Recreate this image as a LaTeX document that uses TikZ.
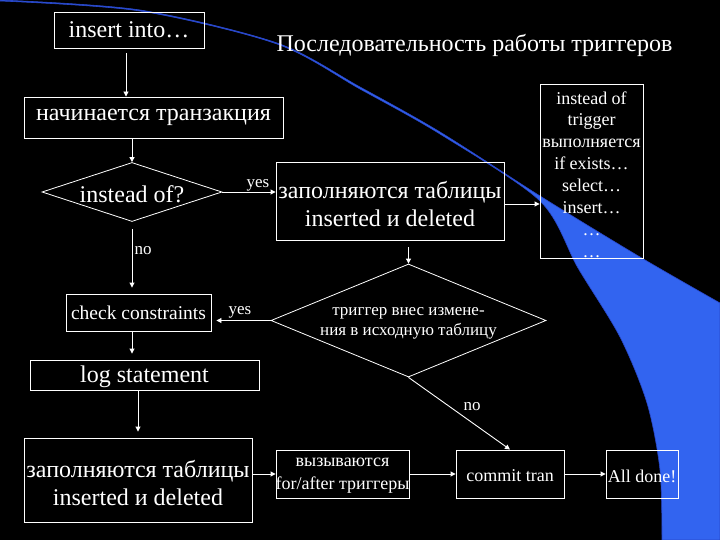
\documentclass[tikz,border=0pt]{standalone}
\usepackage{fontspec}
\setmainfont{Liberation Serif}
\usetikzlibrary{arrows.meta,shapes.geometric}
\definecolor{bluefill}{RGB}{50,100,240}
\definecolor{bluedark}{RGB}{40,70,200}
\tikzset{
  box/.style={draw=white, line width=0.9pt, inner sep=0pt, text=white, align=center},
  dia/.style={draw=white, line width=0.8pt, diamond, inner sep=0pt},
  arr/.style={draw=white, line width=0.9pt, -{Triangle[length=5pt,width=5pt]}},
  lbl/.style={text=white, inner sep=0pt, font=\fontsize{17}{19}\selectfont},
  big/.style={font=\fontsize{24}{28}\selectfont},
}
\begin{document}
\begin{tikzpicture}[x=1pt,y=-1pt]
\fill[black] (0,0) rectangle (720,540);
\useasboundingbox (0,0) rectangle (720,540);
% blue crescent
\fill[bluefill, draw=bluedark, line width=0.6pt]
  plot[smooth] coordinates {(0,0) (140,10) (277,43) (360,87) (440,132) (540,196) (640,257) (720,303)}
  -- (720,540) -- (662,540)
  -- plot[smooth] coordinates {(662,540) (660,470) (647,403) (620,337) (578,268) (540,201) (440,134) (360,89) (277,44) (140,11) (0,1)}
  -- cycle;
% title
\node[text=white, big, inner sep=0pt] (title) at (474.5,45) {Последовательность работы триггеров};
% boxes
\node[box, big, minimum width=150pt, minimum height=36pt] (ins) at (129,30) {insert into…};
\node[box, big, minimum width=259pt, minimum height=41pt] (beg) at (153.5,117.5) {начинается транзакция};
\node[dia, minimum width=180pt, minimum height=59pt,
  label={[text=white, big, yshift=-2pt]center:instead of?}] (d1) at (132,192) {};
\node[box, minimum width=228pt, minimum height=78pt,
  label={[text=white, align=center, big, yshift=-3pt]center:заполняются таблицы\\inserted и deleted}] (b1) at (390,201) {};
\node[box, minimum width=103pt, minimum height=174pt,
  label={[text=white, align=center, font=\fontsize{18}{21.9}\selectfont, yshift=-3.5pt]center:instead of\\trigger\\выполняется\\if exists…\\select…\\insert…\\…\\…}] (tall) at (591.5,171) {};
\node[box, minimum width=145pt, minimum height=37pt, font=\fontsize{19.5}{22}\selectfont] (cc) at (138.5,312.5) {check constraints};
\node[dia, minimum width=275pt, minimum height=113pt,
  label={[text=white, align=center, font=\fontsize{17}{20}\selectfont, yshift=-3pt]center:триггер внес измене-\\ния в исходную таблицу}] (d2) at (408.5,320.5) {};
\node[box, minimum width=229pt, minimum height=30pt,
  label={[text=white, big, yshift=-2pt]center:log statement}] (log) at (144.5,375) {};
\node[box, minimum width=228pt, minimum height=84pt,
  label={[text=white, align=center, big, yshift=-3pt]center:заполняются таблицы\\inserted и deleted}] (b2) at (138,480) {};
\node[box, minimum width=133pt, minimum height=48pt,
  label={[text=white, align=center, font=\fontsize{18}{23}\selectfont, yshift=-2pt]center:вызываются\\for/after триггеры}] (call) at (342.5,474) {};
\node[box, minimum width=108pt, minimum height=48pt,
  label={[text=white, font=\fontsize{18}{20}\selectfont, yshift=-2pt]center:commit tran}] (commit) at (510,474) {};
\node[box, minimum width=72pt, minimum height=48pt,
  label={[text=white, font=\fontsize{18}{20}\selectfont, yshift=-2pt]center:All done!}] (done) at (642,474) {};
% connectors
\draw[arr, shorten <=5pt] ([xshift=-3pt]ins.south) -- ([xshift=-3pt]ins.south |- beg.north);
\draw[arr] (d1.north |- beg.south) -- (d1.north);
\draw[arr] (d1.east) -- (d1.east -| b1.west);
\node[lbl] (y1) at (258,185) {yes};
\draw[arr] ([yshift=-3pt]b1.east) -- ([yshift=-3pt]b1.east -| tall.west);
\draw[arr, shorten <=7pt, shorten >=6pt] (d1.south) -- (d1.south |- cc.north);
\node[lbl] (n1) at (143,251) {no};
\draw[arr, shorten >=6pt] ([xshift=-6.5pt]cc.south) -- ([xshift=-6.5pt]cc.south |- log.north);
\draw[arr, shorten >=6pt] ([xshift=-6.5pt]log.south) -- ([xshift=-6.5pt]log.south |- b2.north);
\draw[arr] (call.west -| b2.east) -- (call.west);
\draw[arr] (call.east) -- (commit.west);
\draw[arr] (commit.east) -- (done.west);
\draw[arr, shorten <=7pt] (d2.north |- b1.south) -- (d2.north);
\draw[arr, shorten >=5pt] (d2.west) -- (d2.west -| cc.east);
\node[lbl] (y2) at (240,312) {yes};
\draw[arr] (d2.south) -- (commit.north);
\node[lbl] (n2) at (472,407) {no};
\end{tikzpicture}
\end{document}
